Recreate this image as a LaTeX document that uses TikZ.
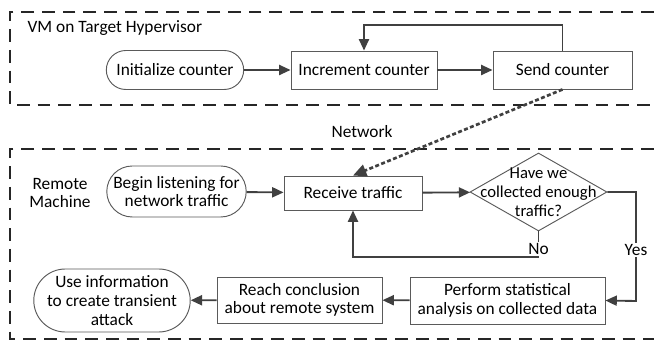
\documentclass[tikz,border=0pt]{standalone}
\usepackage{fontspec}
\setmainfont{Carlito}
\usetikzlibrary{arrows.meta,shapes.geometric,shapes.misc}
\definecolor{edge}{HTML}{404040}
\definecolor{frame}{HTML}{5A5A5A}
\tikzset{
  every node/.style={font=\fontsize{13pt}{14pt}\selectfont, align=center, inner sep=1pt},
  proc/.style={draw=frame, line width=0.7pt, rectangle, inner sep=1pt},
  term/.style={draw=frame, line width=0.7pt, rounded rectangle, inner sep=1pt},
  dec/.style={draw=frame, line width=0.7pt, diamond, inner sep=0pt, minimum width=102.75pt, minimum height=58.5pt},
  flow/.style={draw=edge, line width=1.4pt, -{Triangle[length=8.5pt,width=7.5pt]}},
  net/.style={draw=edge, line width=2pt, dash pattern=on 3pt off 1.8pt, -{Triangle[length=10pt,width=9pt]}},
  region/.style={draw=black!85, line width=1.4pt, dash pattern=on 9.5pt off 6pt},
  lbl/.style={fill=white, inner sep=1pt}
}
\begin{document}
\begin{tikzpicture}[x=0.75pt, y=-0.75pt]
\useasboundingbox[fill=white] (0,0) rectangle (654,341);
% regions
\draw[region] (654,12) -- (10,12) -- (10,105) -- (654,105);
\draw[region] (654,149) -- (10,149) -- (10,339) -- (654,339);
\node[anchor=west] (vmlbl) at (26,28) {VM on Target Hypervisor};
\node (remlbl) at (60,193) {Remote\\Machine};
% top nodes
\node[term, minimum width=105pt, minimum height=29.25pt] (init) at (175,70) {Initialize counter};
\node[proc, minimum width=109.5pt, minimum height=28.5pt] (incr) at (364,70) {Increment counter};
\node[proc, minimum width=104.25pt, minimum height=28.5pt] (send) at (562.5,70) {Send counter};
% bottom nodes
\node[term, minimum width=104.25pt, minimum height=38.25pt] (begin) at (176.5,191.5) {Begin listening for\\network traffic};
\node[proc, minimum width=103.5pt, minimum height=25.5pt] (recv) at (353,193) {Receive traffic};
\node[dec, label={[align=center, font=\fontsize{12.5pt}{14.3pt}\selectfont]center:Have we\\collected enough\\traffic?}] (decide) at (538.5,192) {};
\node[proc, minimum width=146.25pt, minimum height=35.25pt] (perf) at (507.5,300.5) {Perform statistical\\analysis on collected data};
\node[proc, minimum width=123.75pt, minimum height=34.5pt] (reach) at (299.5,300) {Reach conclusion\\about remote system};
\node[term, minimum width=117pt, minimum height=47.25pt] (use) at (112,300.5) {Use information\\to create transient\\attack};
% corner coordinates
\coordinate (loopR) at (562.5,25);
\coordinate (loopL) at (364,25);
\coordinate (yesA) at (636,192);
\coordinate (yesB) at (636,301);
\coordinate (noA) at (538.5,257);
\coordinate (noB) at (353,257);
% connectors
\draw[flow] (init) -- (incr);
\draw[flow] (incr) -- (send);
\draw[flow] (send.north) -- (loopR) -- (loopL) -- (incr.north);
\draw[flow] (begin) -- (recv);
\draw[flow] (recv) -- (decide);
\draw[flow] (decide.east) -- (yesA) -- (yesB) -- (perf.east);
\draw[flow] (decide.south) -- (noA) -- (noB) -- (recv.south);
\draw[flow] (perf) -- (reach);
\draw[flow] (reach) -- (use);
\draw[net] (send.south) -- (recv.north);
% labels
\node (netlbl) at (362,132) {Network};
\node[lbl] (yeslbl) at (636,250) {Yes};
\node[lbl] (nolbl) at (538.5,249) {No};
\end{tikzpicture}
\end{document}
